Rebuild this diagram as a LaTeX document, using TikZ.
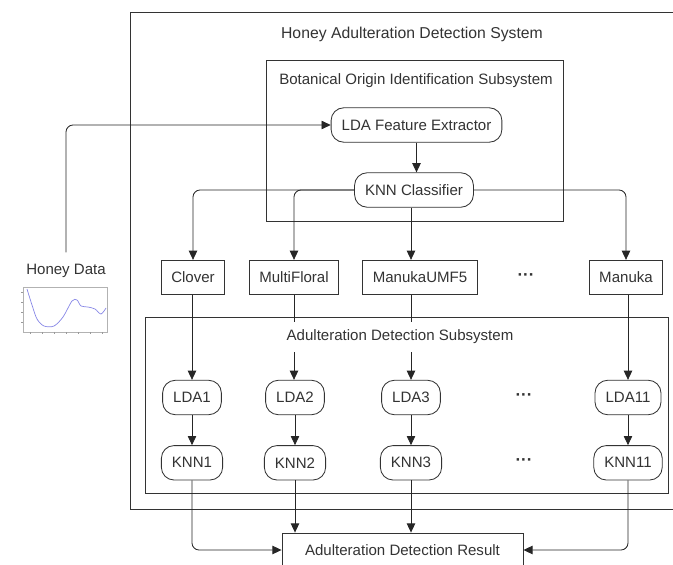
\documentclass[tikz,border=0pt]{standalone}
\usepackage{fontspec}
\setmainfont{Liberation Sans}
\usetikzlibrary{positioning, arrows.meta}

\begin{document}
\begin{tikzpicture}[
      x=0.025cm, y=-0.025cm,
      font=\fontsize{10.7}{12.8}\selectfont, text=black!80,
      proc/.style={draw=black!80, line width=0.6pt, rounded corners=9pt,
      minimum height=24.5pt, inner xsep=7.5pt, inner ysep=0pt, fill=white},
      cls/.style={draw=black!80, line width=0.6pt, minimum height=24.5pt,
      inner xsep=7pt, inner ysep=0pt, fill=white},
      sys/.style={draw=black!80, line width=0.6pt},
      more/.style={font=\fontsize{12}{14}\selectfont\bfseries},
      arr/.style={-{Triangle[length=6.5pt, width=6pt]}, line width=0.6pt,
      draw=black!85, rounded corners=5pt}
    ]
    \useasboundingbox (0,0) rectangle (673,565);

    % system frames
    \draw[sys] (130,12) rectangle (700,509);
    \draw[sys] (266,60) rectangle (563,221);
    \draw[sys] (145,317) rectangle (668,493);

    \node[font=\fontsize{11.2}{13}\selectfont] (systitle) at (412,34)
    {Honey Adulteration Detection System};
    \node (botitle) at (416,81) {Botanical Origin Identification Subsystem};

    % input
    \node (hd) at (66,271) {Honey Data};
    \begin{scope}[line width=0.3pt]
      \draw[black!30] (23,287) rectangle (107,332);
      \foreach \tx in {30,42,54,66,78,90,102}
        \draw[black!40] (\tx,332) -- (\tx,334);
      \foreach \ty in {292,302,312,322}
        \draw[black!40] (23,\ty) -- (21,\ty);
      \draw[line width=0.5pt, color={rgb,255:red,135;green,135;blue,230}]
      plot[smooth] coordinates {(27,289) (32,305) (37,319) (44,326)
      (54,326) (63,317) (72,301) (77,300) (81,306) (88,307) (95,309)
      (101,314) (106,308)};
    \end{scope}

    % botanical origin identification
    \node[proc] (ldafe) at (416.5,125) {LDA Feature Extractor};
    \node[proc] (knnc) at (414,190) {KNN Classifier};

    % botanical classes
    \node[cls] (clover) at (193,277.5) {Clover};
    \node[cls] (multi) at (294,277.5) {MultiFloral};
    \node[cls] (mumf) at (420,277.5) {ManukaUMF5};
    \node[more] (cdots) at (526,277.5) {···};
    \node[cls] (manuka) at (626,277.5) {Manuka};

    % adulteration detection
    \node[proc] (lda1) at (192,397.5) {LDA1};
    \node[proc] (lda2) at (295,397.5) {LDA2};
    \node[proc] (lda3) at (411,397.5) {LDA3};
    \node[more] (ldots) at (524,397.5) {···};
    \node[proc] (lda11) at (628,397.5) {LDA11};

    \node[proc, below=0.75cm of lda1] (knn1) {KNN1};
    \node[proc, below=0.75cm of lda2] (knn2) {KNN2};
    \node[proc, below=0.75cm of lda3] (knn3) {KNN3};
    \node[more] (kdots) at (524,462.5) {···};
    \node[proc, below=0.75cm of lda11] (knn11) {KNN11};

    \node[cls, minimum width=6.025cm, minimum height=0.85cm] (res)
    at (402.5,550) {Adulteration Detection Result};

    \draw[arr] ([yshift=5pt]hd.north) |- (ldafe.west);
    \draw[arr] (ldafe.south) -- (ldafe.south |- knnc.north);
    \draw[arr] (knnc.west) -| (clover.north);
    \draw[arr] (knnc.west) -| (multi.north);
    \draw[arr] (knnc.south -| lda3.north) -- (lda3.north |- mumf.north);
    \draw[arr] (knnc.east) -| (manuka.north);

    \draw[arr] (clover.south -| lda1.north) -- (lda1.north);
    \draw[arr] (multi.south) -- (multi.south |- lda2.north);
    \draw[arr] (lda3.north |- mumf.south) -- (lda3.north);
    \draw[arr] (manuka.south -| lda11.north) -- (lda11.north);

    \draw[arr] (lda1) -- (knn1);
    \draw[arr] (lda2) -- (knn2);
    \draw[arr] (lda3) -- (knn3);
    \draw[arr] (lda11) -- (knn11);

    \draw[arr] (knn1.south) |- (res.west);
    \draw[arr] (knn2.south) -- (knn2.south |- res.north);
    \draw[arr] (knn3.south) -- (knn3.south |- res.north);
    \draw[arr] (knn11.south) |- (res.east);

    \node[fill=white, inner ysep=6pt] (adtitle) at (400,337)
    {Adulteration Detection Subsystem};
  \end{tikzpicture}
\end{document}
